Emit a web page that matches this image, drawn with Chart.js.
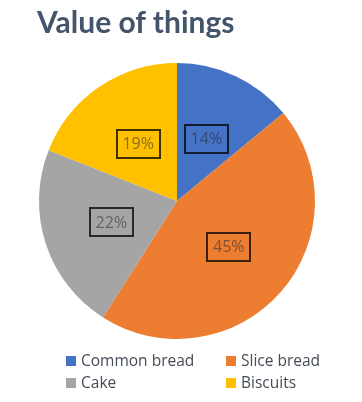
<!DOCTYPE html>
<html>
<head>
<meta charset="utf-8">
<script src="https://cdn.jsdelivr.net/npm/chart.js@4"></script>
<style>
  body { margin: 0; background: #fff; }
  #wrap { position: relative; width: 362px; height: 402px; overflow: hidden; }
  #title {
    position: absolute; left: 37px; top: 7px;
    font: bold 30px Lato, "Open Sans", sans-serif; line-height: 29px;
    color: #44546A; white-space: nowrap;
  }
  .leg {
    position: absolute; font: 15.5px "Open Sans", sans-serif; line-height: 15px;
    color: #464c57; white-space: nowrap;
  }
  .leg i { position: absolute; width: 10px; height: 10px; left: 0; top: 3px; }
  .leg span { position: absolute; left: 15px; top: 0; }
</style>
</head>
<body>
<div id="wrap">
  <canvas id="pie" width="362" height="402"></canvas>
  <div id="title">Value of things</div>
  <div id="legend"></div>
</div>
<script>
// chart data
const categories = ["Common bread", "Slice bread", "Cake", "Biscuits"];
const shares = [14, 45, 22, 19];
const colors = ["#4472C4", "#ED7D31", "#A5A5A5", "#FFC000"];

// legend in two columns
const legend = document.getElementById("legend");
const legendSpots = [[66, 353], [226, 353], [66, 375], [226, 375]];
categories.forEach((name, i) => {
  let item = document.createElement("div");
  item.className = "leg";
  item.style.left = legendSpots[i][0] + "px";
  item.style.top = legendSpots[i][1] + "px";
  item.innerHTML = `<i style="background:${colors[i]}"></i><span>${name}</span>`;
  legend.appendChild(item);
});

// percent labels in boxes, halfway out on each slice
const boxLabels = {
  id: "boxLabels",
  afterDatasetsDraw(chart) {
    const ctx = chart.ctx;
    const meta = chart.getDatasetMeta(0);
    meta.data.forEach((arc, i) => {
      const p = arc.getProps(["x", "y", "startAngle", "endAngle", "outerRadius"], true);
      const mid = (p.startAngle + p.endAngle) / 2;
      const r = p.outerRadius * 0.5;
      const x = p.x + Math.cos(mid) * r;
      const y = p.y + Math.sin(mid) * r;
      const w = 43, h = 28;
      ctx.save();
      ctx.strokeStyle = "rgba(0,0,0,0.75)";
      ctx.lineWidth = 2;
      ctx.strokeRect(Math.round(x - w / 2), Math.round(y - h / 2), w, h);
      ctx.fillStyle = "rgba(40,40,50,0.55)";
      ctx.font = '16px "Open Sans", sans-serif';
      ctx.textAlign = "center";
      ctx.textBaseline = "middle";
      ctx.fillText(shares[i] + "%", x, y + 1);
      ctx.restore();
    });
  }
};

const ctx = document.getElementById("pie").getContext("2d");
new Chart(ctx, {
  type: "pie",
  data: {
    labels: categories,
    datasets: [{
      data: shares,
      backgroundColor: colors,
      borderWidth: 0
    }]
  },
  options: {
    responsive: false,
    animation: false,
    layout: { padding: { left: 38, right: 46, top: 63, bottom: 63 } },
    plugins: {
      legend: { display: false },
      title: { display: false },
      tooltip: { enabled: false }
    }
  },
  plugins: [boxLabels]
});
</script>
</body>
</html>
